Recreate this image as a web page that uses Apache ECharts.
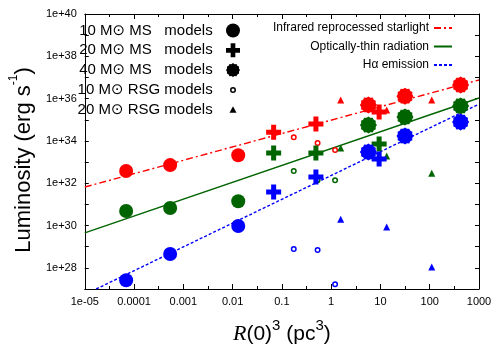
<!DOCTYPE html>
<html>
<head>
<meta charset="utf-8">
<script src="https://cdn.jsdelivr.net/npm/echarts@6/dist/echarts.min.js"></script>
<style>
  html, body { margin: 0; padding: 0; background: #fff; }
  #chart { width: 500px; height: 350px; }
</style>
</head>
<body>
<div id="chart"></div>
<script>
// R(0)^3 (pc^3) of each model family
var ms10X  = [6.9e-5, 5.4e-4, 0.013];
var ms20X  = [0.068, 0.49, 9.4];
var ms40X  = [5.7, 31.5, 423];
var rsg10X = [0.174, 0.53, 1.2];
var rsg20X = [1.56, 13.4, 110];

// luminosities (erg/s), order: 10 MS, 20 MS, 40 MS, 10 RSG, 20 RSG
var irLum = [
  [3.8e32, 7.2e32, 2.1e33],
  [2.6e34, 6.3e34, 2.3e35],
  [5.0e35, 1.3e36, 4.4e36],
  [1.5e34, 7.9e33, 3.7e33],
  [8.5e35, 2.9e35, 8.5e35]
];
var thinLum = [
  [4.9e30, 6.8e30, 1.4e31],
  [2.7e33, 2.7e33, 7.1e33],
  [5.6e34, 1.35e35, 4.5e35],
  [3.8e32, 1.4e32, 1.4e32],
  [4.6e33, 1.95e33, 3.0e32]
];
var haLum = [
  [2.6e27, 4.5e28, 9.5e29],
  [3.8e31, 1.95e32, 1.4e33],
  [3.0e33, 1.7e34, 7.8e34],
  [7.8e28, 6.9e28, 1.7e27],
  [2.0e30, 8.5e29, 1.1e28]
];

// fitted relations, end points
var irFitX = [1e-5, 1000];
var irFitY = [6.6e31, 7.6e36];
var thinFitX = [1e-5, 1000];
var thinFitY = [4.5e29, 1.07e36];
var haFitX = [1.7e-5, 1000];
var haFitY = [1e27, 5.5e35];

var modelNames = ['10 M⊙ MS   models', '20 M⊙ MS   models', '40 M⊙ MS   models',
  '10 M⊙ RSG models', '20 M⊙ RSG models'];
var modelX = [ms10X, ms20X, ms40X, rsg10X, rsg20X];
var lineNames = ['Infrared reprocessed starlight', 'Optically-thin radiation', 'Hα emission'];

var xTickLabels = ['1e-05', '0.0001', '0.001', '0.01', '0.1', '1', '10', '100', '1000'];

var font = 'Liberation Sans, DejaVu Sans, sans-serif';
var colors = ['#ff0000', '#006400', '#0000ff'];

// bumpy disc used for the 40 Msun models
function bumpyPath() {
  var d = '';
  for (var i = 0; i < 24; i++) {
    var a = i * Math.PI / 12;
    var r = i % 2 ? 8.8 : 10;
    d += (i ? 'L' : 'M') + (10 + r * Math.cos(a)).toFixed(2) + ' ' + (10 + r * Math.sin(a)).toFixed(2);
  }
  return 'path://' + d + 'Z';
}
var crossPath = 'path://M5 0H10V5H15V10H10V15H5V10H0V5H5Z';
var ringSeries = 'path://M0 7a7 7 0 1 1 14 0a7 7 0 1 1 -14 0ZM3.5 7a3.5 3.5 0 1 0 7 0a3.5 3.5 0 1 0 -7 0Z';

var symbols = ['circle', crossPath, bumpyPath(), ringSeries, 'triangle'];
var sizes = [14, 15, 17, 6, 7];

// legend icons (small ones padded to keep their size)
var legendIcons = ['circle', crossPath, bumpyPath(),
  'path://M0 0M14 14M4 7a3 3 0 1 1 6 0a3 3 0 1 1 -6 0ZM5.5 7a1.5 1.5 0 1 0 3 0a1.5 1.5 0 1 0 -3 0Z',
  'path://M0 0M14 14M7 3.5L10.5 10L3.5 10Z'];

var lums = [irLum, thinLum, haLum];
var series = [];
for (var c = 0; c < 3; c++) {
  for (var m = 0; m < 5; m++) {
    var pts = [];
    for (var k = 0; k < modelX[m].length; k++) {
      pts.push([modelX[m][k], lums[c][m][k]]);
    }
    series.push({
      name: modelNames[m],
      type: 'scatter',
      data: pts,
      symbol: symbols[m],
      symbolSize: sizes[m],
      itemStyle: { color: colors[c], opacity: 1 },
      z: 3
    });
  }
}

var fits = [[irFitX, irFitY], [thinFitX, thinFitY], [haFitX, haFitY]];
var dashes = [[7, 3, 2, 3], 'solid', [3, 2]];
for (var f = 0; f < 3; f++) {
  var lp = [];
  for (var j = 0; j < fits[f][0].length; j++) {
    lp.push([fits[f][0][j], fits[f][1][j]]);
  }
  series.push({
    name: lineNames[f],
    type: 'line',
    data: lp,
    symbol: 'none',
    clip: true,
    lineStyle: { color: colors[f], width: 1.4, type: dashes[f] },
    itemStyle: { color: colors[f] },
    z: 2
  });
}

var xBase = {
  type: 'log', logBase: 10, min: 1e-5, max: 1000, interval: 1,
  splitLine: { show: false },
  axisLine: { lineStyle: { color: '#000', width: 1 } },
  axisTick: { inside: true, length: 5, lineStyle: { color: '#000' } }
};
var yBase = {
  type: 'log', logBase: 10, min: 1e27, max: 1e40, interval: 1,
  splitLine: { show: false },
  axisLine: { lineStyle: { color: '#000', width: 1 } },
  axisTick: { inside: true, length: 4, lineStyle: { color: '#000' } }
};
// half-decade ticks on the x frame
var xHalf = Object.assign({}, xBase, {
  interval: 0.5,
  axisLine: { show: false },
  axisLabel: { show: false },
  axisTick: { inside: true, length: 3, lineStyle: { color: '#000' } }
});

var chart = echarts.init(document.getElementById('chart'));
chart.setOption({
  animation: false,
  backgroundColor: '#fff',
  textStyle: { fontFamily: font },
  grid: { left: 68, right: 21, top: 14, bottom: 61 },
  legend: [{
    orient: 'vertical',
    right: 255,
    top: 18,
    align: 'right',
    itemWidth: 14,
    itemHeight: 14,
    itemGap: 4.8,
    selectedMode: false,
    formatter: function (n) { return n + '  '; },
    textStyle: { fontSize: 15, color: '#000', fontFamily: font },
    data: modelNames.map(function (n, i) {
      return { name: n, icon: legendIcons[i], itemStyle: { color: '#000' } };
    })
  }, {
    orient: 'vertical',
    right: 42,
    top: 17,
    align: 'right',
    itemWidth: 18,
    itemHeight: 10,
    itemGap: 6.5,
    selectedMode: false,
    textStyle: { fontSize: 12, color: '#000', fontFamily: font },
    // hide the marker drawn on the line sample
    data: lineNames.map(function (n) {
      return { name: n, itemStyle: { opacity: 0 } };
    })
  }],
  xAxis: [
    Object.assign({}, xBase, {
      position: 'bottom',
      axisLabel: {
        color: '#000', fontSize: 11, margin: 7, fontFamily: font,
        formatter: function (v) {
          var e = Math.round(Math.log10(v));
          return xTickLabels[e + 5];
        }
      },
      name: '{i|R}{n|(0)}{s|3}{n| (pc}{s|3}{n|)}',
      nameLocation: 'middle',
      nameGap: 29,
      nameTextStyle: {
        color: '#000', fontFamily: font,
        rich: {
          i: { fontSize: 22, fontStyle: 'italic', fontFamily: 'Liberation Serif, serif', color: '#000', lineHeight: 27, verticalAlign: 'bottom' },
          n: { fontSize: 21, color: '#000', fontFamily: font, lineHeight: 27, verticalAlign: 'bottom' },
          s: { fontSize: 15, color: '#000', fontFamily: font, lineHeight: 27, verticalAlign: 'top' }
        }
      }
    }),
    Object.assign({}, xBase, { position: 'top', axisLabel: { show: false } }),
    Object.assign({}, xHalf, { position: 'bottom' }),
    Object.assign({}, xHalf, { position: 'top' })
  ],
  yAxis: [
    Object.assign({}, yBase, {
      position: 'left',
      axisLabel: {
        color: '#000', fontSize: 11, margin: 8, fontFamily: font, interval: 0,
        formatter: function (v) {
          var e = Math.round(Math.log10(v));
          return e % 2 === 0 ? '1e+' + e : '';
        }
      },
      name: '{n|Luminosity (erg s}{s|-1}{n|)}',
      nameLocation: 'middle',
      nameGap: 41,
      nameTextStyle: {
        color: '#000', fontFamily: font,
        padding: [0, 17, 0, 0],
        rich: {
          n: { fontSize: 22, color: '#000', fontFamily: font, lineHeight: 27, verticalAlign: 'bottom' },
          s: { fontSize: 12, color: '#000', fontFamily: font, lineHeight: 27, verticalAlign: 'top' }
        }
      }
    }),
    Object.assign({}, yBase, { position: 'right', axisLabel: { show: false } })
  ],
  series: series
});
</script>
</body>
</html>
